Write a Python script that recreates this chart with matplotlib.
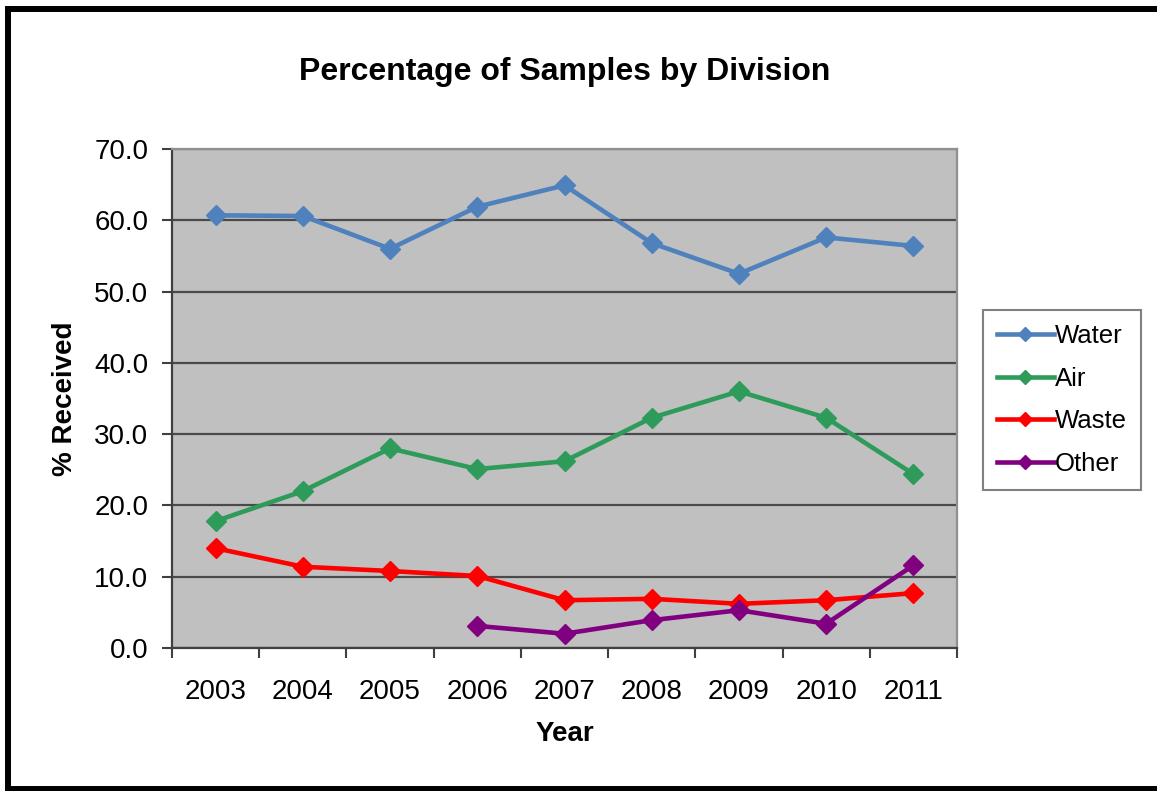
import numpy as np
import matplotlib
matplotlib.use('Agg')
import matplotlib.pyplot as plt
from matplotlib.lines import Line2D

plt.rcParams.update({
    'font.family': ['Liberation Sans', 'DejaVu Sans'],
})

years = ['2003', '2004', '2005', '2006', '2007', '2008', '2009', '2010', '2011']
water = [60.7, 60.6, 56.0, 61.9, 64.9, 56.8, 52.5, 57.6, 56.4]
air   = [17.8, 22.0, 28.0, 25.1, 26.2, 32.3, 36.0, 32.3, 24.4]
waste = [14.0, 11.4, 10.8, 10.1, 6.7, 6.9, 6.2, 6.7, 7.7]
other = [np.nan, np.nan, np.nan, 3.1, 2.0, 3.9, 5.3, 3.4, 11.6]

series = [('Water', water, '#4F81BD'),
          ('Air',   air,   '#2E9B5A'),
          ('Waste', waste, '#FF0000'),
          ('Other', other, '#800080')]

W, H = 1157, 791
fig = plt.figure(figsize=(W / 100, H / 100), dpi=100)
ax = fig.add_axes([172 / W, 1 - 648 / H, (957 - 172) / W, (648 - 149) / H])
ax.set_facecolor('#C0C0C0')

x = np.arange(len(years))
for name, vals, col in series:
    ax.plot(x, vals, color=col, linewidth=3.3, marker='D', markersize=10,
            label=name, zorder=3)

ax.set_xlim(-0.5, len(years) - 0.5)
ax.set_ylim(0, 70)
ax.set_yticks(np.arange(0, 71, 10))
ax.set_yticklabels([f'{v:.1f}' for v in np.arange(0, 71, 10)])
ax.set_xticks(x)
ax.set_xticklabels(years)
ax.set_xticks(np.arange(-0.5, len(years)), minor=True)
ax.tick_params(axis='x', which='major', length=0, pad=22, labelsize=20)
ax.tick_params(axis='x', which='minor', length=7, width=1.5, color='#404040',
               direction='out')
ax.tick_params(axis='y', length=7, width=1.5, color='#404040', direction='out',
               pad=10, labelsize=20)
ax.yaxis.grid(True, color='#4a4a4a', linewidth=1.6)
ax.set_axisbelow(True)
for s in ['left', 'bottom']:
    ax.spines[s].set_color('#404040')
    ax.spines[s].set_linewidth(1.6)
for s in ['top', 'right']:
    ax.spines[s].set_color('#909090')
    ax.spines[s].set_linewidth(1.6)

ax.set_xlabel('Year', fontsize=20, fontweight='bold', labelpad=12)
ax.set_ylabel('% Received', fontsize=20, fontweight='bold', labelpad=12)
fig.text(565 / W, 1 - 72 / H, 'Percentage of Samples by Division',
         fontsize=23, fontweight='bold', ha='center', va='center')

leg = fig.legend(loc='upper left', bbox_to_anchor=(983 / W, 1 - 310 / H),
                 fontsize=18.5, frameon=True, fancybox=False, handlelength=2.2,
                 handletextpad=0.05, labelspacing=0.72, borderpad=0.55,
                 borderaxespad=0, markerscale=0.7, numpoints=1)
leg.get_frame().set_edgecolor('#606060')
leg.get_frame().set_linewidth(1.5)

# outer black frame
for xs, ys in [((8 / W, 8 / W), (1 - 9 / H, 0)),
               ((8 / W, 1), (1 - 9 / H, 1 - 9 / H)),
               ((8 / W, 1), (2.5 / H, 2.5 / H))]:
    fig.add_artist(Line2D(xs, ys, color='black', linewidth=4.3,
                          transform=fig.transFigure))

fig.savefig('out.png', dpi=100)
